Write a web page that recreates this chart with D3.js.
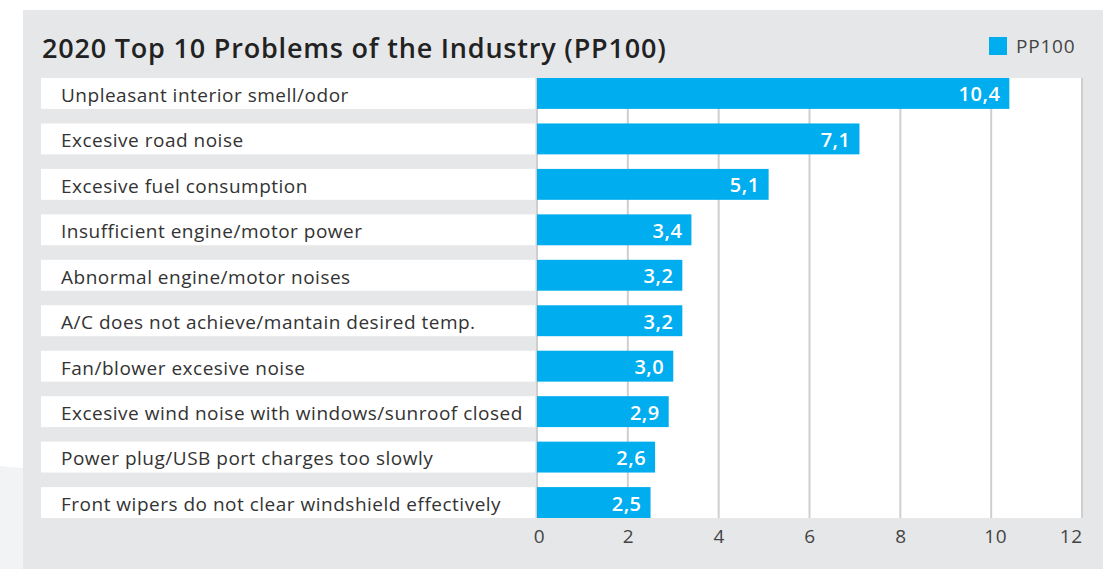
<!DOCTYPE html>
<html>
<head>
<meta charset="utf-8">
<script src="https://cdn.jsdelivr.net/npm/d3@7"></script>
<style>
  body { margin: 0; background: #fff; }
  text { font-family: "Open Sans", "Noto Sans", sans-serif; }
</style>
</head>
<body>
<div id="my_dataviz"></div>
<script>
// data
var problems = [
  "Unpleasant interior smell/odor",
  "Excesive road noise",
  "Excesive fuel consumption",
  "Insufficient engine/motor power",
  "Abnormal engine/motor noises",
  "A/C does not achieve/mantain desired temp.",
  "Fan/blower excesive noise",
  "Excesive wind noise with windows/sunroof closed",
  "Power plug/USB port charges too slowly",
  "Front wipers do not clear windshield effectively"
];
var pp100 = [10.4, 7.1, 5.1, 3.4, 3.2, 3.2, 3.0, 2.9, 2.6, 2.5];
var xTicks = [0, 2, 4, 6, 8, 10, 12];

var W = 1103, H = 569;
var plot = {left: 537, right: 1082, top: 78, bottom: 518};
var labelLeft = 41;
var blue = "#00adef";

var svg = d3.select("#my_dataviz")
  .append("svg")
  .attr("width", W)
  .attr("height", H);

// soft lighter shape at bottom left
svg.append("path")
  .attr("d", "M0,466 L23,468 L23," + H + " L0," + H + "Z")
  .attr("fill", "#f2f3f5");

// grey panel
svg.append("rect")
  .attr("x", 23).attr("y", 10)
  .attr("width", W - 23).attr("height", H - 10)
  .attr("fill", "#e6e7e9");

var x = d3.scaleLinear()
  .domain([0, 12])
  .range([plot.left, plot.right]);

var y = d3.scaleBand()
  .domain(problems)
  .range([plot.top, plot.bottom])
  .paddingInner(0.32)
  .paddingOuter(0);

// white plot area
svg.append("rect")
  .attr("x", plot.left).attr("y", plot.top)
  .attr("width", plot.right - plot.left)
  .attr("height", plot.bottom - plot.top)
  .attr("fill", "#fff");

// grid lines
svg.append("g")
  .selectAll("line")
  .data(xTicks)
  .enter()
  .append("line")
    .attr("x1", function(d) { return x(d); })
    .attr("x2", function(d) { return x(d); })
    .attr("y1", plot.top)
    .attr("y2", plot.bottom)
    .attr("stroke", "#cfcfcf")
    .attr("stroke-width", 2);

// label boxes
svg.append("g")
  .selectAll("rect")
  .data(problems)
  .enter()
  .append("rect")
    .attr("x", labelLeft)
    .attr("y", function(d) { return y(d); })
    .attr("width", plot.left - labelLeft - 2)
    .attr("height", y.bandwidth())
    .attr("fill", "#fff");

svg.append("g")
  .selectAll("text")
  .data(problems)
  .enter()
  .append("text")
    .attr("x", 61)
    .attr("y", function(d) { return y(d) + y.bandwidth() / 2; })
    .attr("dy", "0.44em")
    .attr("font-size", 19)
    .attr("letter-spacing", 0.5)
    .attr("fill", "#333")
    .text(function(d) { return d; });

// bars
svg.append("g")
  .selectAll("rect")
  .data(pp100)
  .enter()
  .append("rect")
    .attr("x", x(0))
    .attr("y", function(d, i) { return y(problems[i]); })
    .attr("width", function(d) { return x(d) - x(0); })
    .attr("height", y.bandwidth())
    .attr("fill", blue);

var fmt = function(v) { return d3.format(".1f")(v).replace(".", ","); };

svg.append("g")
  .selectAll("text")
  .data(pp100)
  .enter()
  .append("text")
    .attr("x", function(d) { return x(d) - 9; })
    .attr("y", function(d, i) { return y(problems[i]) + y.bandwidth() / 2; })
    .attr("dy", "0.4em")
    .attr("text-anchor", "end")
    .attr("font-size", 20)
    .attr("font-weight", 600)
    .attr("letter-spacing", 0.5)
    .attr("fill", "#fff")
    .text(fmt);

// x axis
var xAxis = svg.append("g")
  .attr("transform", "translate(0," + plot.bottom + ")")
  .call(d3.axisBottom(x).tickValues(xTicks).tickSize(0).tickPadding(12));
xAxis.select(".domain").remove();
xAxis.selectAll("text")
  .attr("font-family", "'Open Sans', 'Noto Sans', sans-serif")
  .attr("font-size", 19)
  .attr("letter-spacing", 0.5)
  .attr("fill", "#444")
  .attr("text-anchor", function(d) { return d === 12 ? "end" : "middle"; })
  .attr("dx", function(d) { return d === 0 ? 2 : (d === 10 ? 4 : 0); });

// title
svg.append("text")
  .attr("x", 42)
  .attr("y", 58)
  .attr("font-size", 27)
  .attr("font-weight", 600)
  .attr("letter-spacing", 0.8)
  .attr("fill", "#222")
  .text("2020 Top 10 Problems of the Industry (PP100)");

// legend
svg.append("rect")
  .attr("x", 989).attr("y", 37)
  .attr("width", 18).attr("height", 18)
  .attr("fill", blue);
svg.append("text")
  .attr("x", 1016)
  .attr("y", 46)
  .attr("dy", "0.36em")
  .attr("font-size", 19)
  .attr("letter-spacing", 0.8)
  .attr("fill", "#444")
  .text("PP100");
</script>
</body>
</html>
